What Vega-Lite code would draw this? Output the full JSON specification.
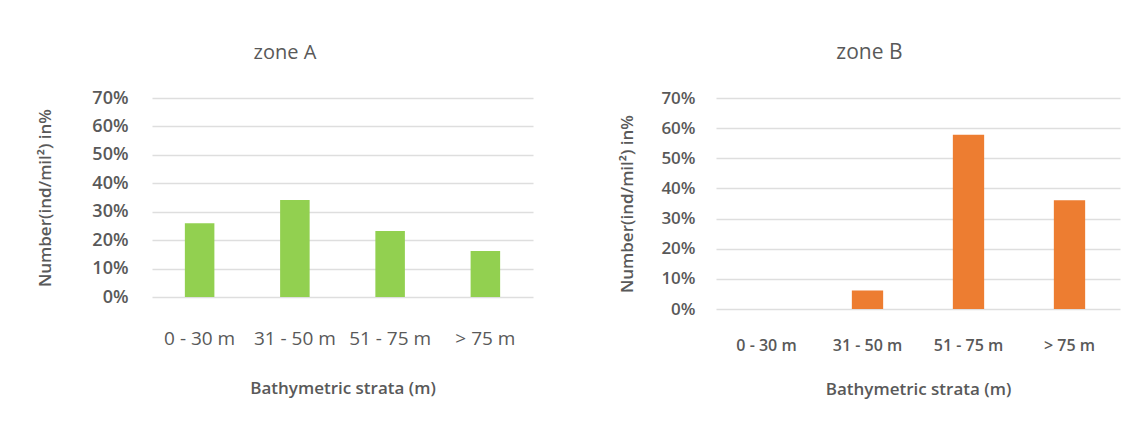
{
  "$schema": "https://vega.github.io/schema/vega-lite/v6.json",
  "background": "white",
  "padding": {"left": 36, "top": 42, "right": 5, "bottom": 5},
  "spacing": 85,
  "config": {
    "view": {"stroke": null},
    "font": "Open Sans",
    "axis": {"gridColor": "#dedede", "gridWidth": 1.5, "domain": false, "ticks": false, "labelColor": "#595959", "titleColor": "#595959"}
  },
  "hconcat": [
    {
      "width": 381,
      "height": 199,
      "title": {"text": "zone A", "fontSize": 20, "fontWeight": "normal", "color": "#595959", "offset": 26, "frame": "bounds", "anchor": "middle"},
      "data": {"values": [
        {"stratum": "0 - 30 m", "pct": 0.259},
        {"stratum": "31 - 50 m", "pct": 0.341},
        {"stratum": "51 - 75 m", "pct": 0.232},
        {"stratum": "> 75 m", "pct": 0.162}
      ]},
      "mark": {"type": "bar", "color": "#92D050"},
      "encoding": {
        "x": {
          "field": "stratum", "type": "nominal", "sort": null,
          "scale": {"paddingInner": 0.69, "paddingOuter": 0.345},
          "axis": {"title": "Bathymetric strata (m)", "labelAngle": 0, "grid": false, "labelFontSize": 19, "labelPadding": 32, "titleFontSize": 17, "titleFontWeight": 600, "titlePadding": 32}
        },
        "y": {
          "field": "pct", "type": "quantitative",
          "scale": {"domain": [0, 0.7]},
          "axis": {"title": "Number(ind/mil²) in%", "format": ".0%", "values": [0, 0.1, 0.2, 0.3, 0.4, 0.5, 0.6, 0.7], "labelFontSize": 18, "labelFontWeight": 600, "labelPadding": 24, "titleFontSize": 17, "titleFontWeight": 600, "titlePadding": 37}
        }
      }
    },
    {
      "width": 404,
      "height": 211,
      "title": {"text": "zone  B", "fontSize": 21, "fontWeight": 500, "color": "#595959", "offset": 26, "frame": "bounds", "anchor": "middle"},
      "data": {"values": [
        {"stratum": "0 - 30 m", "pct": 0.0},
        {"stratum": "31 - 50 m", "pct": 0.061},
        {"stratum": "51 - 75 m", "pct": 0.578},
        {"stratum": "> 75 m", "pct": 0.361}
      ]},
      "mark": {"type": "bar", "color": "#ED7D31"},
      "encoding": {
        "x": {
          "field": "stratum", "type": "nominal", "sort": null,
          "scale": {"paddingInner": 0.69, "paddingOuter": 0.345},
          "axis": {"title": "Bathymetric strata (m)", "labelAngle": 0, "grid": false, "labelFontSize": 16, "labelFontWeight": 600, "labelPadding": 28, "titleFontSize": 17, "titleFontWeight": 600, "titlePadding": 28}
        },
        "y": {
          "field": "pct", "type": "quantitative",
          "scale": {"domain": [0, 0.7]},
          "axis": {"title": "Number(ind/mil²) in%", "format": ".0%", "values": [0, 0.1, 0.2, 0.3, 0.4, 0.5, 0.6, 0.7], "labelFontSize": 17, "labelFontWeight": 600, "labelPadding": 21, "titleFontSize": 17, "titleFontWeight": 600, "titlePadding": 24}
        }
      }
    }
  ]
}
